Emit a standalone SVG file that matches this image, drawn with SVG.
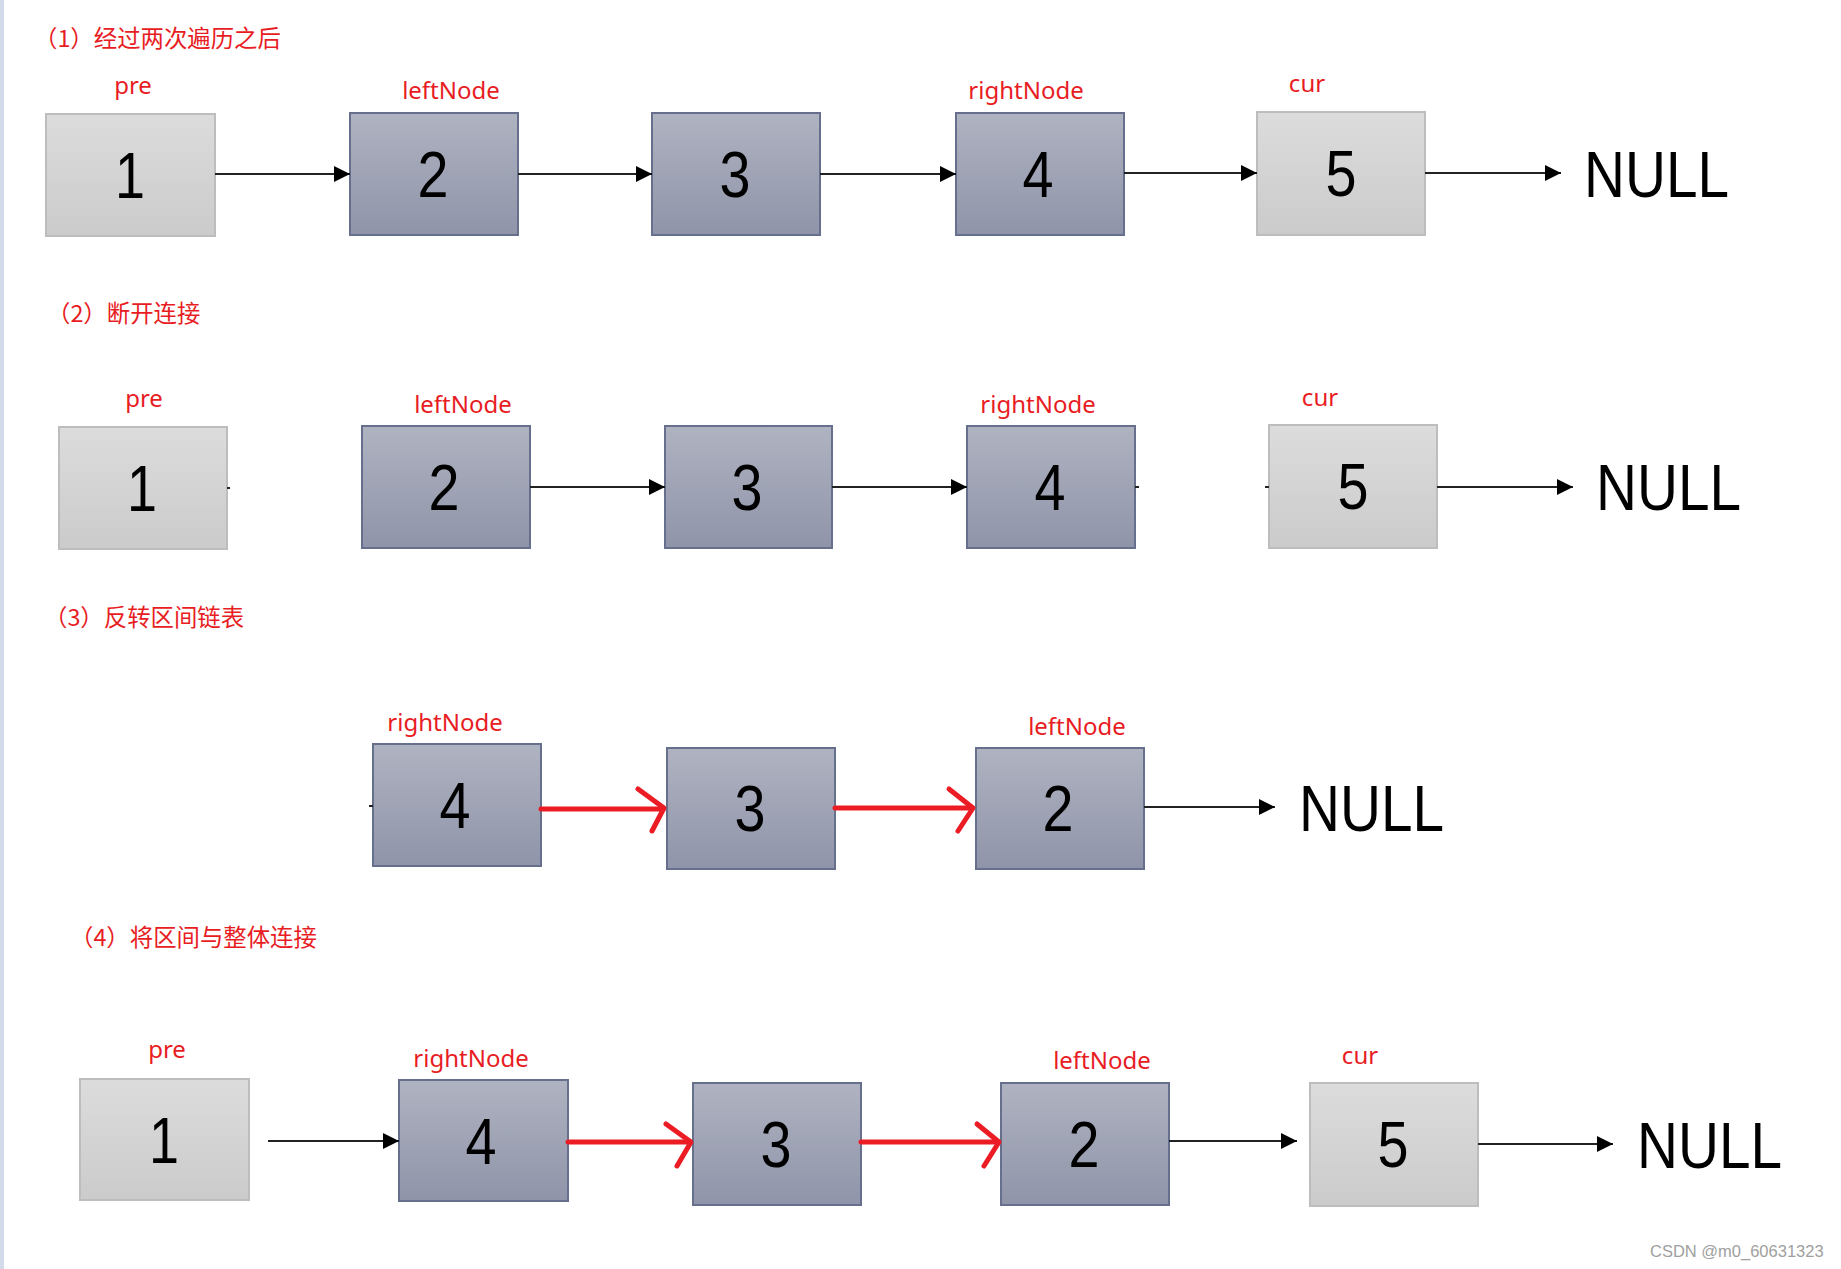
<svg xmlns="http://www.w3.org/2000/svg" width="1841" height="1269" viewBox="0 0 1841 1269">
<style>
.title{font-family:"Noto Sans CJK SC","Noto Sans",sans-serif;font-size:23.4px;fill:#e81c23}
.lbl{font-family:"Noto Sans","Noto Sans CJK SC",sans-serif;font-size:24px;fill:#e81c23;text-anchor:middle}
.num{font-family:"Liberation Sans",Arial,sans-serif;font-size:64px;fill:#000;text-anchor:middle}
.null{font-family:"Liberation Sans",Arial,sans-serif;font-size:64px;fill:#000}
.light{fill:url(#gLight);stroke:#bdbdbd;stroke-width:2}
.dark{fill:url(#gDark);stroke:#66708c;stroke-width:2}
.blk{stroke:#222;stroke-width:2;fill:none}
.red{stroke:#ec1c24;stroke-width:5;fill:none;stroke-linecap:round;stroke-linejoin:round}
.wm{font-family:"Liberation Sans",Arial,sans-serif;font-size:16.5px;fill:#a0a0a0}
</style>
<defs>
<linearGradient id="gLight" x1="0" y1="0" x2="0" y2="1">
<stop offset="0" stop-color="#dcdcdc"/><stop offset="1" stop-color="#cbcbcb"/>
</linearGradient>
<linearGradient id="gDark" x1="0" y1="0" x2="0" y2="1">
<stop offset="0" stop-color="#afb3c1"/><stop offset="1" stop-color="#8f94a9"/>
</linearGradient>
<marker id="ah" markerUnits="userSpaceOnUse" markerWidth="16" markerHeight="16" viewBox="0 0 16 16" refX="16" refY="8" orient="auto">
<path d="M0,0 L16,8 L0,16 z" fill="#000"/>
</marker>
</defs>
<rect x="0" y="0" width="1841" height="1269" fill="#fff"/>
<rect x="0" y="0" width="4" height="1269" fill="#d3dbea"/>

<!-- titles -->
<text class="title" x="34" y="47">（1）经过两次遍历之后</text>
<text class="title" x="47" y="322">（2）断开连接</text>
<text class="title" x="44" y="626">（3）反转区间链表</text>
<text class="title" x="70" y="946">（4）将区间与整体连接</text>

<!-- Row 1 -->
<g id="r1-n1"><text class="lbl" x="133" y="94">pre</text><rect class="light" x="46" y="114" width="169" height="122"/><text class="num" x="130" y="198" textLength="30" lengthAdjust="spacingAndGlyphs">1</text></g>
<g id="r1-n2"><text class="lbl" x="451" y="99">leftNode</text><rect class="dark" x="350" y="113" width="168" height="122"/><text class="num" x="433" y="197" textLength="31" lengthAdjust="spacingAndGlyphs">2</text></g>
<g id="r1-n3"><rect class="dark" x="652" y="113" width="168" height="122"/><text class="num" x="735" y="197" textLength="31" lengthAdjust="spacingAndGlyphs">3</text></g>
<g id="r1-n4"><text class="lbl" x="1026" y="99">rightNode</text><rect class="dark" x="956" y="113" width="168" height="122"/><text class="num" x="1038" y="197" textLength="31" lengthAdjust="spacingAndGlyphs">4</text></g>
<g id="r1-n5"><text class="lbl" x="1307" y="92">cur</text><rect class="light" x="1257" y="112" width="168" height="123"/><text class="num" x="1341" y="196" textLength="31" lengthAdjust="spacingAndGlyphs">5</text></g>
<g id="r1-null"><text class="null" x="1584" y="197" textLength="145" lengthAdjust="spacingAndGlyphs">NULL</text></g>

<!-- Row 2 -->
<g id="r2-n1"><text class="lbl" x="144" y="407">pre</text><rect class="light" x="59" y="427" width="168" height="122"/><text class="num" x="142" y="511" textLength="30" lengthAdjust="spacingAndGlyphs">1</text></g>
<g id="r2-n2"><text class="lbl" x="463" y="413">leftNode</text><rect class="dark" x="362" y="426" width="168" height="122"/><text class="num" x="444" y="510" textLength="31" lengthAdjust="spacingAndGlyphs">2</text></g>
<g id="r2-n3"><rect class="dark" x="665" y="426" width="167" height="122"/><text class="num" x="747" y="510" textLength="31" lengthAdjust="spacingAndGlyphs">3</text></g>
<g id="r2-n4"><text class="lbl" x="1038" y="413">rightNode</text><rect class="dark" x="967" y="426" width="168" height="122"/><text class="num" x="1050" y="510" textLength="31" lengthAdjust="spacingAndGlyphs">4</text></g>
<g id="r2-n5"><text class="lbl" x="1320" y="406">cur</text><rect class="light" x="1269" y="425" width="168" height="123"/><text class="num" x="1353" y="509" textLength="31" lengthAdjust="spacingAndGlyphs">5</text></g>
<g id="r2-null"><text class="null" x="1596" y="510" textLength="145" lengthAdjust="spacingAndGlyphs">NULL</text></g>

<!-- Row 3 -->
<g id="r3-n4"><text class="lbl" x="445" y="731">rightNode</text><rect class="dark" x="373" y="744" width="168" height="122"/><text class="num" x="455" y="828" textLength="31" lengthAdjust="spacingAndGlyphs">4</text></g>
<g id="r3-n3"><rect class="dark" x="667" y="748" width="168" height="121"/><text class="num" x="750" y="831" textLength="31" lengthAdjust="spacingAndGlyphs">3</text></g>
<g id="r3-n2"><text class="lbl" x="1077" y="735">leftNode</text><rect class="dark" x="976" y="748" width="168" height="121"/><text class="num" x="1058" y="831" textLength="31" lengthAdjust="spacingAndGlyphs">2</text></g>
<g id="r3-null"><text class="null" x="1299" y="831" textLength="145" lengthAdjust="spacingAndGlyphs">NULL</text></g>

<!-- Row 4 -->
<g id="r4-n1"><text class="lbl" x="167" y="1058">pre</text><rect class="light" x="80" y="1079" width="169" height="121"/><text class="num" x="164" y="1163" textLength="30" lengthAdjust="spacingAndGlyphs">1</text></g>
<g id="r4-n4"><text class="lbl" x="471" y="1067">rightNode</text><rect class="dark" x="399" y="1080" width="169" height="121"/><text class="num" x="481" y="1164" textLength="31" lengthAdjust="spacingAndGlyphs">4</text></g>
<g id="r4-n3"><rect class="dark" x="693" y="1083" width="168" height="122"/><text class="num" x="776" y="1167" textLength="31" lengthAdjust="spacingAndGlyphs">3</text></g>
<g id="r4-n2"><text class="lbl" x="1102" y="1069">leftNode</text><rect class="dark" x="1001" y="1083" width="168" height="122"/><text class="num" x="1084" y="1167" textLength="31" lengthAdjust="spacingAndGlyphs">2</text></g>
<g id="r4-n5"><text class="lbl" x="1360" y="1064">cur</text><rect class="light" x="1310" y="1083" width="168" height="123"/><text class="num" x="1393" y="1167" textLength="31" lengthAdjust="spacingAndGlyphs">5</text></g>
<g id="r4-null"><text class="null" x="1637" y="1168" textLength="145" lengthAdjust="spacingAndGlyphs">NULL</text></g>

<!-- connectors -->
<g id="connectors">
<line class="blk" x1="215" y1="174" x2="350" y2="174" marker-end="url(#ah)"/>
<line class="blk" x1="518" y1="174" x2="652" y2="174" marker-end="url(#ah)"/>
<line class="blk" x1="820" y1="174" x2="956" y2="174" marker-end="url(#ah)"/>
<line class="blk" x1="1124" y1="173" x2="1257" y2="173" marker-end="url(#ah)"/>
<line class="blk" x1="1425" y1="173" x2="1561" y2="173" marker-end="url(#ah)"/>

<line class="blk" x1="530" y1="487" x2="665" y2="487" marker-end="url(#ah)"/>
<line class="blk" x1="832" y1="487" x2="967" y2="487" marker-end="url(#ah)"/>
<line class="blk" x1="1437" y1="487" x2="1573" y2="487" marker-end="url(#ah)"/>
<line class="blk" x1="227" y1="488" x2="230" y2="488"/>
<line class="blk" x1="1135" y1="487" x2="1139" y2="487"/>
<line class="blk" x1="1265" y1="487" x2="1269" y2="487"/>

<line class="blk" x1="369" y1="806" x2="373" y2="806"/>
<line class="red" x1="541" y1="809" x2="663" y2="809"/>
<polyline class="red" points="638,789 664,808 652,831"/>
<line class="red" x1="835" y1="808" x2="971" y2="808"/>
<polyline class="red" points="949,789 973,808 958,831"/>
<line class="blk" x1="1144" y1="807" x2="1275" y2="807" marker-end="url(#ah)"/>

<line class="blk" x1="268" y1="1141" x2="399" y2="1141" marker-end="url(#ah)"/>
<line class="red" x1="568" y1="1142" x2="690" y2="1142"/>
<polyline class="red" points="666,1124 691,1142 677,1166"/>
<line class="red" x1="861" y1="1142" x2="997" y2="1142"/>
<polyline class="red" points="977,1124 999,1142 984,1166"/>
<line class="blk" x1="1169" y1="1141" x2="1297" y2="1141" marker-end="url(#ah)"/>
<line class="blk" x1="1478" y1="1144" x2="1613" y2="1144" marker-end="url(#ah)"/>
</g>

<text class="wm" x="1650" y="1257">CSDN @m0_60631323</text>
</svg>
